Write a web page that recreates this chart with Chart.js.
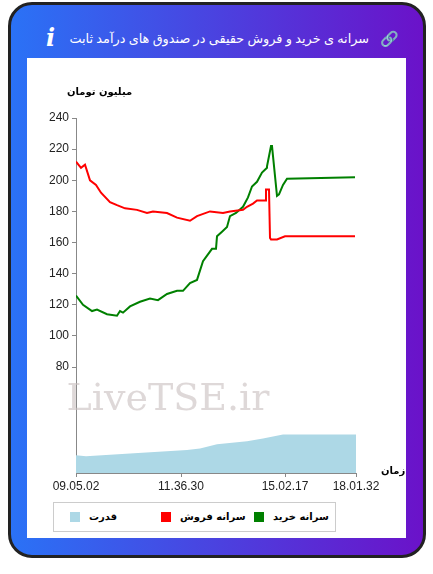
<!DOCTYPE html>
<html><head><meta charset="utf-8">
<script src="https://cdn.jsdelivr.net/npm/chart.js@4"></script>
<style>
body{margin:0;width:433px;height:574px;background:#fff;font-family:"DejaVu Sans",sans-serif;position:relative;overflow:hidden}
#card{position:absolute;left:8px;top:2px;width:412px;height:550px;border:3px solid #222;border-radius:24px;background:linear-gradient(90deg,#2a72f6,#6b12c9);overflow:hidden}
#title{position:absolute;right:54px;top:24px;color:#fff;font-size:12.8px;font-family:"Noto Sans","DejaVu Sans";direction:rtl;white-space:nowrap}
#info{position:absolute;left:35px;top:18px;color:#fff;font:bold italic 24px "DejaVu Serif",serif}
#link{position:absolute;right:24px;top:25px;color:#fff;font-size:15px}
#panel{position:absolute;left:27px;top:58px;width:379px;height:480px;background:#fff}
#cw{position:absolute;left:0;top:0;width:379px;height:440px}
#ytitle{position:absolute;left:40px;top:28px;font:bold 10px "DejaVu Sans";direction:rtl}
#xtitle{position:absolute;left:354px;top:407px;font:bold 10px "DejaVu Sans";direction:rtl}
#legend{position:absolute;left:26px;top:444px;width:281px;height:28px;border:1px solid #ccc;font:bold 10px "DejaVu Sans"}
.li{position:absolute;top:8px;display:flex;align-items:center;gap:9px;white-space:nowrap}
.li span:last-child{direction:rtl}
.sw{width:10px;height:10px;display:inline-block}
</style></head><body>
<div id="card">
<div id="info">i</div>
<div id="title">سرانه ی خرید و فروش حقیقی در صندوق های درآمد ثابت</div>
<div id="link">&#128279;</div>
</div>
<div id="panel">
<div id="cw"><canvas id="c"></canvas></div>
<div id="ytitle">میلیون تومان</div>
<div id="xtitle">زمان</div>
<div id="legend">
<div class="li" style="left:200px"><span class="sw" style="background:#008000"></span><span>سرانه خرید</span></div>
<div class="li" style="left:107px"><span class="sw" style="background:#ff0000"></span><span>سرانه فروش</span></div>
<div class="li" style="left:16px"><span class="sw" style="background:#add8e6"></span><span>قدرت</span></div>
</div>
</div>
<script>
const tickPos=[0,105,209,280];
const tickLabels=["09.05.02","11.36.30","15.02.17","18.01.32"];
const sellX=[0,5,9,14,20,25,34,41,49,61,71,77,91,101,114,121,134,147,154,167,171,177,181,190,190,193,194,195,201,209,279];
const sellY=[212,208,210,200,197,192,186,184,182,181,179,180,179,176,174,177,180,179,180,181,183,185,187,187,194,194,163,162,162,164,164];
const buyX=[0,7,16,21,31,41,44,47,54,64,74,82,91,101,107,114,121,127,136,140,141,146,151,154,160,167,172,176,181,186,191,191,195,196,201,203,207,211,279];
const buyY=[126,120,116,117,114,113,116,115,119,122,124,123,127,129,129,134,136,148,156,156,164,167,170,177,179,183,189,196,199,205,208,209,222,222,190,191,197,201,202];
const powX=[0,10,54,111,124,141,171,187,207,280];
const powY=[23.4,22.8,24.5,26.7,27.8,30.5,32.4,34.2,36.7,36.7];
const pts=(xs,ys)=>xs.map((x,i)=>({x,y:ys[i]}));
const wm={id:'wm',beforeDatasetsDraw(ch){const c=ch.ctx;c.save();c.font='38px "DejaVu Serif",serif';c.fillStyle='rgba(200,190,190,0.6)';c.textAlign='center';c.fillText('LiveTSE.ir',141,352);c.restore();}};
const gridOpt={drawOnChartArea:false,drawTicks:true,tickLength:4,color:'#888'};
new Chart(document.getElementById('c'),{
type:'line',
data:{datasets:[
{data:pts(sellX,sellY),borderColor:'#ff0000',borderWidth:2,pointRadius:0,fill:false},
{data:pts(buyX,buyY),borderColor:'#008000',borderWidth:2,pointRadius:0,fill:false},
{data:pts(powX,powY),borderColor:'#add8e6',backgroundColor:'#add8e6',borderWidth:0,pointRadius:0,fill:'start'}
]},
options:{responsive:true,maintainAspectRatio:false,animation:false,
layout:{padding:{top:60,right:50,left:0,bottom:0}},
plugins:{legend:{display:false},tooltip:{enabled:false}},
scales:{
x:{type:'linear',min:0,max:280,grid:gridOpt,border:{color:'#888'},
 afterBuildTicks(s){s.ticks=tickPos.map(v=>({value:v}));},
 afterFit(s){s.height=25;},
 ticks:{autoSkip:false,maxRotation:0,color:'#222',font:{size:12,family:'"Liberation Sans"'},padding:2,callback:(v)=>tickLabels[tickPos.indexOf(v)]}},
y:{min:12,max:240,grid:gridOpt,border:{color:'#888'},
 afterBuildTicks(s){s.ticks=[80,100,120,140,160,180,200,220,240].map(v=>({value:v}));},
 afterFit(s){s.width=49;},
 ticks:{color:'#222',font:{size:12,family:'"Liberation Sans"'},padding:3}}
}},
plugins:[wm]});
</script>
</body></html>
